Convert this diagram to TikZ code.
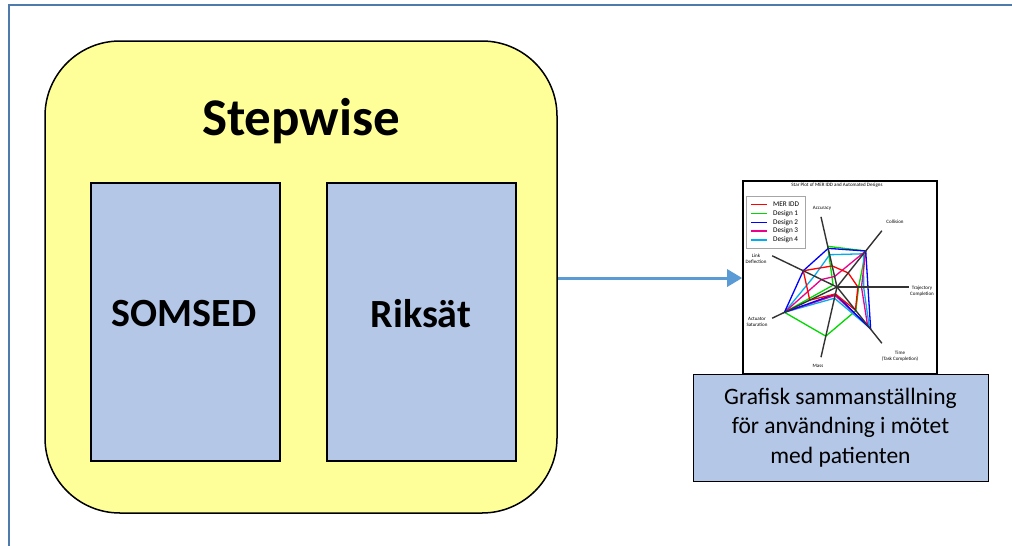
\documentclass[tikz,border=0pt]{standalone}
\usepackage{fontspec}
\setmainfont{Carlito}
\usepackage{tikz}
\usetikzlibrary{arrows.meta}
\definecolor{frameblue}{RGB}{79,123,172}
\definecolor{stepyellow}{RGB}{255,255,153}
\definecolor{boxblue}{RGB}{180,199,231}
\definecolor{arrowblue}{RGB}{91,155,213}
\tikzset{
  % node options
  stepbox/.style={rectangle,draw,line width=1.5pt,fill=stepyellow,
    rounded corners=75pt,minimum width=512pt,minimum height=472pt},
  regbox/.style={rectangle,draw,line width=1.2pt,fill=boxblue,
    minimum width=189pt,minimum height=278pt},
  regtext/.style={font=\fontsize{40}{48}\selectfont\bfseries},
  capbox/.style={rectangle,draw,line width=1pt,fill=boxblue,
    minimum width=295pt,minimum height=107pt,align=center,
    font=\fontsize{23.5}{29.5}\selectfont},
  plotbox/.style={rectangle,draw,line width=1.6pt,fill=white,
    minimum width=194pt,minimum height=193pt},
  axislabel/.style={inner sep=0pt,align=center,
    font=\fontsize{5}{5.8}\selectfont},
  % path options
  flow/.style={-{Triangle[length=15pt,width=17pt]},line width=3pt,
    draw=arrowblue},
  axis/.style={line width=1.4pt,draw=black!80},
  design/.style={line width=1.3pt},
}
\newcommand{\axes}{%
  \foreach \ang in {0,51.43,...,308.6}
    \draw[axis] (0,0) -- (\ang:1);}
\newcommand{\legendline}[3]{%
  \draw[design,#1] (751,#2) -- (767,#2);
  \node[anchor=west,inner sep=0pt,font=\fontsize{7.2}{8}\selectfont] at (773,#2) {#3};}

\begin{document}
\begin{tikzpicture}[x=1pt,y=-1pt]
  \useasboundingbox (0,0) rectangle (1012,546);
  \draw[frameblue,line width=2.4pt] (1012,5) -- (9,5) -- (9,546);

  \node[stepbox] (stepwise) at (301,277) {};
  \node[font=\fontsize{53}{60}\selectfont\bfseries] (title) at (301,121) {Stepwise};
  \node[regbox] (somsed) at (185.5,322) {};
  \node[regtext] at (184,314) {SOMSED};
  \node[regbox] (riksat) at (421.5,322) {};
  \node[regtext] at (421,314) {Riksät};

  \node[plotbox] (plot) at (840,277.5) {};
  \node[capbox] (caption) at (840.5,427.5)
    {Grafisk sammanställning\\för användning i mötet\\med patienten};
  \draw[flow] (stepwise.east |- 0,278) -- (plot.west |- 0,278);

  % star plot
  \node[axislabel] (plottitle) at (837,185) {Star Plot of MER IDD and Automated Designs};
  \draw[black!35,line width=.4pt] (746,196) rectangle (805,248);
  \legendline{red}{204.3}{MER IDD}
  \legendline{green!85!black}{213.3}{Design 1}
  \legendline{blue}{222.3}{Design 2}
  \legendline{magenta}{231}{Design 3}
  \legendline{cyan}{240}{Design 4}
  \begin{scope}[shift={(837,287)},x=72pt,y=72pt]
    \draw[design,green!85!black] (0:.30) -- (51.43:.64) -- (102.86:.58) -- (154.29:.06)
      -- (205.71:.81) -- (257.14:.70) -- (308.57:.42) -- cycle;
    \draw[design,cyan] (0:.37) -- (51.43:.59) -- (102.86:.46) -- (154.29:.35)
      -- (205.71:.81) -- (257.14:.16) -- (308.57:.72) -- cycle;
    \draw[design,magenta] (0:.34) -- (51.43:.64) -- (102.86:.15) -- (154.29:.24)
      -- (205.71:.81) -- (257.14:.12) -- (308.57:.68) -- cycle;
    \draw[design,blue] (0:.43) -- (51.43:.64) -- (102.86:.55) -- (154.29:.52)
      -- (205.71:.81) -- (257.14:.10) -- (308.57:.75) -- cycle;
    \draw[design,red] (0:.29) -- (51.43:.25) -- (102.86:.30) -- (154.29:.52)
      -- (205.71:.42) -- (257.14:.10) -- (308.57:.41) -- cycle;
    \axes
  \end{scope}
  \node[axislabel] at (822,208) {Accuracy};
  \node[axislabel] at (895,222) {Collision};
  \node[axislabel] at (922,291) {Trajectory\\Completion};
  \node[axislabel] at (900,356) {Time\\(Task Completion)};
  \node[axislabel] at (818,366) {Mass};
  \node[axislabel] at (757,322) {Actuator\\Saturation};
  \node[axislabel] at (756,259) {Link\\Deflection};
\end{tikzpicture}
\end{document}
